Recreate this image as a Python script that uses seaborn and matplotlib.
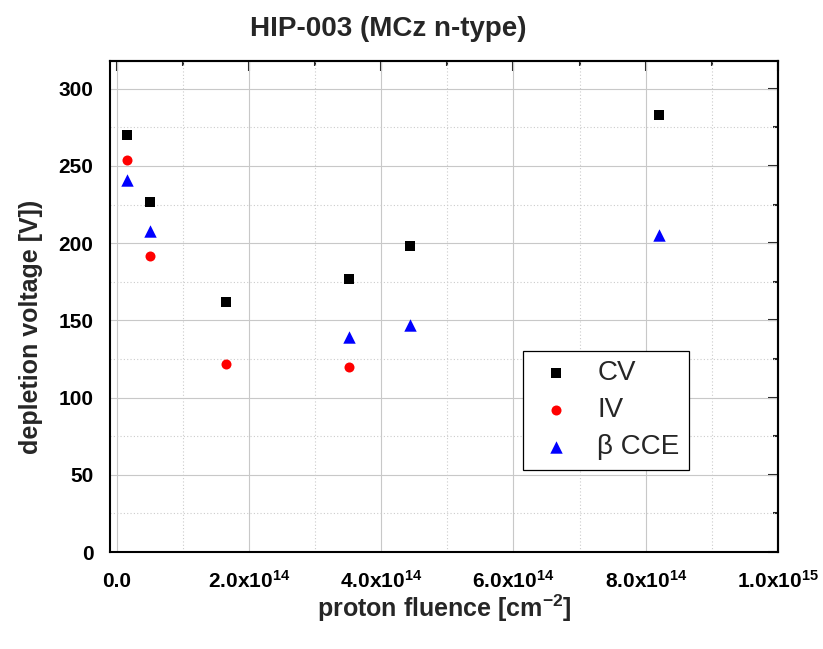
import matplotlib
matplotlib.use("Agg")
import matplotlib.pyplot as plt
import seaborn as sns
import pandas as pd
from matplotlib.ticker import MultipleLocator

# ---- data ----
fluence_cv = [1.5e13, 5.0e13, 1.66e14, 3.52e14, 4.43e14, 8.2e14]
voltage_cv = [270, 227, 162, 177, 198, 283]
fluence_iv = [1.5e13, 5.0e13, 1.66e14, 3.52e14]
voltage_iv = [254, 192, 122, 120]
fluence_cce = [1.5e13, 5.0e13, 3.52e14, 4.43e14, 8.2e14]
voltage_cce = [241, 208, 139, 147, 205]
series_labels = ["CV", "IV", "\u03b2 CCE"]
x_tick_values = [0, 2e14, 4e14, 6e14, 8e14, 1e15]
x_tick_labels = ["0.0", "2.0x10$^{14}$", "4.0x10$^{14}$", "6.0x10$^{14}$",
                 "8.0x10$^{14}$", "1.0x10$^{15}$"]
y_tick_values = [0, 50, 100, 150, 200, 250, 300]

sns.set_style("white")
plt.rcParams["font.family"] = ["Liberation Sans", "DejaVu Sans"]
plt.rcParams["mathtext.fontset"] = "custom"
plt.rcParams["mathtext.rm"] = "Liberation Sans:bold"
plt.rcParams["mathtext.bf"] = "Liberation Sans:bold"
plt.rcParams["mathtext.it"] = "Liberation Sans:bold"

fig = plt.figure(figsize=(8.23, 6.49), dpi=100)
ax = fig.add_axes([110 / 823, 1 - 552 / 649, 668 / 823, 491 / 649])

df_cv = pd.DataFrame({"fluence": fluence_cv, "voltage": voltage_cv})
df_iv = pd.DataFrame({"fluence": fluence_iv, "voltage": voltage_iv})
df_cce = pd.DataFrame({"fluence": fluence_cce, "voltage": voltage_cce})

sns.scatterplot(data=df_cv, x="fluence", y="voltage", marker="s", color="black",
                s=46, linewidth=0, label=series_labels[0], ax=ax, zorder=3)
sns.scatterplot(data=df_iv, x="fluence", y="voltage", marker="o", color="#ff0000",
                s=52, linewidth=0, label=series_labels[1], ax=ax, zorder=3)
sns.scatterplot(data=df_cce, x="fluence", y="voltage", marker="^", color="#0000ff",
                s=80, linewidth=0, label=series_labels[2], ax=ax, zorder=3)

ax.set_xlim(-1e13, 1e15)
ax.set_ylim(0, 318)

ax.set_xticks(x_tick_values, x_tick_labels)
ax.set_yticks(y_tick_values, [str(v) for v in y_tick_values])
ax.xaxis.set_minor_locator(MultipleLocator(1e14))
ax.yaxis.set_minor_locator(MultipleLocator(25))

ax.set_axisbelow(True)
ax.grid(True, which="major", color="#c8c8c8", linewidth=0.8, linestyle="-")
ax.grid(True, which="minor", color="#cccccc", linewidth=0.8, linestyle=(0, (1, 2)))

for sp in ax.spines.values():
    sp.set_linewidth(1.5)
    sp.set_color("black")

ax.tick_params(which="both", direction="out", width=1.5, colors="black",
               top=False, right=False)
ax.tick_params(which="major", length=7)
ax.tick_params(which="minor", length=3.5)
ax.tick_params(axis="y", which="major", labelsize=15, pad=5)
ax.tick_params(axis="x", which="major", labelsize=15, pad=18.5)
for lbl in ax.get_xticklabels() + ax.get_yticklabels():
    lbl.set_fontweight("bold")
for lbl in ax.get_xticklabels():
    lbl.set_va("baseline")

# inward ticks on top and right
secx = ax.secondary_xaxis("top")
secx.set_xticks(x_tick_values)
secx.xaxis.set_minor_locator(MultipleLocator(1e14))
secx.tick_params(which="both", direction="in", width=1.5, labeltop=False)
secx.tick_params(which="major", length=7)
secx.tick_params(which="minor", length=3.5)
secx.spines["top"].set_linewidth(1.5)
secy = ax.secondary_yaxis("right")
secy.set_yticks(y_tick_values)
secy.yaxis.set_minor_locator(MultipleLocator(25))
secy.tick_params(which="both", direction="in", width=1.5, labelright=False)
secy.tick_params(which="major", length=7)
secy.tick_params(which="minor", length=3.5)
secy.spines["right"].set_linewidth(1.5)

ax.set_xlabel("proton fluence [cm$^{-2}$]", fontsize=18, fontweight="bold")
ax.set_ylabel("depletion voltage [V])", fontsize=18, fontweight="bold")
ax.xaxis.set_label_coords(0.5, -0.082)
ax.yaxis.set_label_coords(-0.10, 0.458)

fig.text(388 / 823, 1 - 36 / 649, "HIP-003 (MCz n-type)", ha="center", va="baseline",
         fontsize=20, fontweight="bold")

leg = ax.legend(loc="upper left", bbox_to_anchor=(0.618, 0.41), fontsize=20,
                frameon=True, fancybox=False, edgecolor="black", framealpha=1,
                borderpad=0.345, labelspacing=0.4, handlelength=1.7,
                handletextpad=0.63, borderaxespad=0)
leg.get_frame().set_linewidth(0.9)

fig.savefig("out.png", dpi=100)
